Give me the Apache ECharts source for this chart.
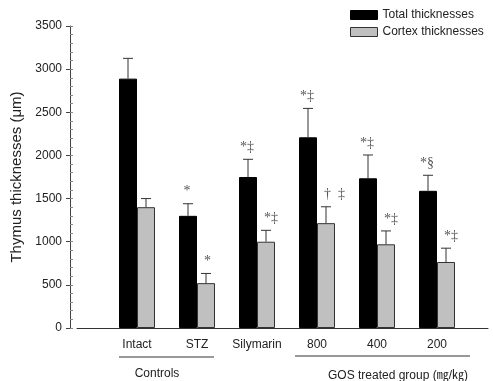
<!DOCTYPE html>
<html><head><meta charset="utf-8">
<script src="https://cdn.jsdelivr.net/npm/echarts@6/dist/echarts.min.js"></script>
<style>html,body{margin:0;padding:0;background:#fff}#c{width:493px;height:381px}</style>
</head><body><div id="c"></div>
<script>
var categories = ['Intact', 'STZ', 'Silymarin', '800', '400', '200'];
var totalValues = [2890, 1300, 1750, 2210, 1735, 1590];
var totalErrors = [235, 140, 205, 335, 270, 180];
var cortexValues = [1400, 520, 1000, 1215, 970, 765];
var cortexErrors = [100, 112, 132, 190, 155, 160];
var totalMarks = ['', '*', '*\u2021', '*\u2021', '*\u2021', '*\u00a7'];
var cortexMarks = ['', '*', '*\u2021', '\u2020  \u2021', '*\u2021', '*\u2021'];
var yTicks = [0, 500, 1000, 1500, 2000, 2500, 3000, 3500];

var BAR_W = 18;
var chart = echarts.init(document.getElementById('c'), null, {renderer: 'canvas'});

function barData(vals) { return vals.map(function (v, i) { return [i, v]; }); }
function errData(vals, errs) { return vals.map(function (v, i) { return [i, v, errs[i]]; }); }

function makeErr(side, marks) {
  return function (params, api) {
    var x = api.value(0), v = api.value(1), e = api.value(2);
    var mark = marks[params.dataIndex];
    var base = api.coord([x, v]);
    var top = api.coord([x, v + e]);
    var cx = base[0] + side * BAR_W / 2;
    var children = [
      {type: 'line', shape: {x1: cx, y1: base[1], x2: cx, y2: top[1]}, style: {stroke: '#333', lineWidth: 1}},
      {type: 'line', shape: {x1: cx - 5, y1: top[1], x2: cx + 5, y2: top[1]}, style: {stroke: '#333', lineWidth: 1}}
    ];
    if (mark) {
      children.push({type: 'text', x: side < 0 ? cx - 1 : cx - 2, y: top[1] - 5,
        style: {text: mark, fill: '#555', font: '14px "Liberation Serif", serif',
          align: side < 0 ? 'center' : 'left', verticalAlign: 'bottom'}});
    }
    return {type: 'group', children: children};
  };
}

var option = {
  animation: false,
  grid: {left: 77, right: 5, top: 26, bottom: 53},
  legend: {
    orient: 'vertical', left: 350, top: 9, padding: 0, itemWidth: 27, itemHeight: 9, itemGap: 5,
    icon: 'rect',
    textStyle: {fontFamily: 'Liberation Sans, Arial', fontSize: 12, color: '#222'},
    data: [
      {name: 'Total thicknesses', itemStyle: {color: '#000', borderColor: '#000', borderWidth: 1}},
      {name: 'Cortex thicknesses', itemStyle: {color: '#c0c0c0', borderColor: '#333', borderWidth: 1}}
    ]
  },
  xAxis: {
    type: 'value', min: -1, max: 5.85, interval: 1,
    splitLine: {show: false},
    axisLine: {show: true, onZero: false, lineStyle: {color: '#333', width: 1}},
    axisTick: {show: false},
    axisLabel: {
      margin: 11, fontFamily: 'Liberation Sans, Arial', fontSize: 12, color: '#222',
      showMinLabel: true, showMaxLabel: false,
      formatter: function (v) { var i = Math.round(v); return (Math.abs(v - i) < 1e-6 && i >= 0 && i < categories.length) ? categories[i] : ''; }
    }
  },
  yAxis: [{
    type: 'value', min: 0, max: 3500, interval: 500, offset: 7, position: 'left',
    name: 'Thymus thicknesses (\u03bcm)', nameLocation: 'middle', nameGap: 46,
    nameTextStyle: {fontFamily: 'Liberation Sans, Arial', fontSize: 15, color: '#222'},
    splitLine: {show: false},
    axisLine: {show: true, onZero: false, lineStyle: {color: '#444', width: 1}},
    axisTick: {show: true, inside: false, length: 4, lineStyle: {color: '#444'}},
    axisLabel: {fontFamily: 'Liberation Sans, Arial', fontSize: 12, color: '#222', margin: 8,
      formatter: function (v) { return yTicks.indexOf(v) >= 0 ? String(v) : ''; }}
  }, {
    type: 'value', min: 0, max: 3500, interval: 100, offset: 7, position: 'left',
    splitLine: {show: false},
    axisLine: {show: false, onZero: false},
    axisTick: {show: true, inside: true, length: 3, lineStyle: {color: '#888'}},
    axisLabel: {show: false}
  }],
  graphic: [
    {type: 'line', shape: {x1: 119, y1: 357, x2: 214, y2: 357}, style: {stroke: '#333', lineWidth: 1}},
    {type: 'line', shape: {x1: 295, y1: 356, x2: 470, y2: 356}, style: {stroke: '#333', lineWidth: 1}},
    {type: 'text', x: 157, y: 374, style: {text: 'Controls', font: '12px "Liberation Sans", Arial', fill: '#222', align: 'center', verticalAlign: 'middle'}},
    {type: 'text', x: 398, y: 376, style: {text: 'GOS treated group (\u338e/\u338f)', font: '12px "Liberation Sans", Arial, "Noto Sans CJK SC"', fill: '#222', align: 'center', verticalAlign: 'middle'}}
  ],
  series: [
    {name: 'Total thicknesses', type: 'bar', barWidth: BAR_W, barGap: '0%', data: barData(totalValues),
      itemStyle: {color: '#000', borderColor: '#000', borderWidth: 1}},
    {name: 'Cortex thicknesses', type: 'bar', barWidth: BAR_W, barGap: '0%', data: barData(cortexValues),
      itemStyle: {color: '#c0c0c0', borderColor: '#333', borderWidth: 1}},
    {type: 'custom', renderItem: makeErr(-1, totalMarks), data: errData(totalValues, totalErrors), z: 5, silent: true},
    {type: 'custom', renderItem: makeErr(1, cortexMarks), data: errData(cortexValues, cortexErrors), z: 5, silent: true}
  ]
};
chart.setOption(option);
</script></body></html>
